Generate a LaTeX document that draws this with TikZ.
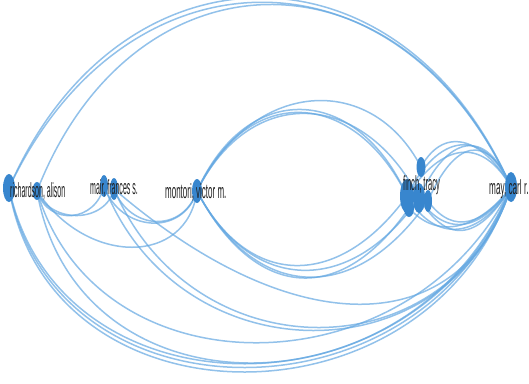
\documentclass[tikz,border=0pt]{standalone}
\usepackage{fontspec}
\setmainfont{Liberation Sans}
\usepackage{graphicx}
\usetikzlibrary{shapes.geometric}
\pgfdeclarelayer{paper}
\pgfdeclarelayer{links}
\pgfsetlayers{paper,links,main}
\definecolor{linkblue}{RGB}{100,168,226}
\definecolor{nodeblue}{RGB}{56,134,206}
\definecolor{labelgray}{RGB}{30,30,30}
\tikzset{
  author/.style={ellipse, fill=nodeblue, draw=none, inner sep=0pt},
  link/.style={draw=linkblue, line width=1.5pt, opacity=0.7},
  lbl/.style={text=labelgray, inner sep=0pt, anchor=base west,
              font=\fontsize{19}{21}\selectfont},
}
\newcommand{\narrow}[2]{\scalebox{#1}[1.08]{#2}}
\begin{document}
\begin{tikzpicture}[x=1pt, y=-1pt]
\useasboundingbox (0,0) rectangle (529,383);
\begin{pgfonlayer}{paper}
\fill[white] (0,0) rectangle (529,383);
\end{pgfonlayer}

% author nodes
\node[author, minimum width=12pt, minimum height=28pt] (ric)   at (9,188)   {};
\node[author, minimum width=9pt,  minimum height=18pt] (ali)   at (37,191)  {};
\node[author, minimum width=8pt,  minimum height=22pt] (mairA) at (104,186) {};
\node[author, minimum width=8pt,  minimum height=22pt] (mairB) at (114,189) {};
\node[author, minimum width=10pt, minimum height=24pt] (mon)   at (197,191) {};
\node[author, minimum width=14pt, minimum height=34pt] (finA)  at (407,196) {};
\node[author, minimum width=9pt,  minimum height=20pt] (finB)  at (421,167) {};
\node[author, minimum width=12pt, minimum height=30pt] (finC)  at (419,198) {};
\node[author, minimum width=10pt, minimum height=18pt] (finD)  at (409,208) {};
\node[author, minimum width=8pt,  minimum height=22pt] (finE)  at (428,201) {};
\node[author, minimum width=12pt, minimum height=30pt] (may)   at (511,187) {};

% labels
\node[lbl] (ricL)  at (10,197)  {\narrow{0.37}{richardson, alison}};
\node[lbl] (mairL) at (90,194)  {\narrow{0.37}{mair, frances s.}};
\node[lbl] (monL)  at (165,198) {\narrow{0.42}{montori, victor m.}};
\node[lbl] (finL)  at (403,190) {\narrow{0.40}{finch, tracy}};
\node[lbl] (mayL)  at (489,194) {\narrow{0.43}{may, carl r.}};

\begin{pgfonlayer}{links}
% long arcs over the top
\draw[link] (ric.center) .. controls +(110,-253) and +(-110,-253) .. (may.center);
\draw[link] (ric.center) .. controls +(116,-247) and +(-112,-247) .. (may.center);
\draw[link] (ali.center) .. controls +(96,-246) and +(-110,-246) .. (may.center);

% long arcs along the bottom
\draw[link] (ric.center) .. controls +(40,246) and +(-80,246) .. (may.center);
\draw[link] (ric.center) .. controls +(45,240) and +(-85,240) .. (may.center);
\draw[link] (ric.center) .. controls +(50,235) and +(-90,235) .. (may.center);
\draw[link] (ali.center) .. controls +(40,232) and +(-95,232) .. (may.center);
\draw[link] (ali.center) .. controls +(60,205) and +(-100,205) .. (may.center);

% frances s. mair to carl r. may
\draw[link] (mairA.center) .. controls +(75,192) and +(-60,192) .. (may.center);
\draw[link] (mairB.center) .. controls +(80,186) and +(-60,186) .. (may.center);
\draw[link] (mairB.center) .. controls +(180,155) and +(-50,155) .. (may.center);

% short links on the left
\draw[link] (ali.center) .. controls +(50,75) and +(-10,75) .. (mon.center);
\draw[link] (ali.center) .. controls +(12,36) and +(-8,36) .. (mairA.center);
\draw[link] (ali.center) .. controls +(14,34) and +(-8,34) .. (mairB.center);
\draw[link] (mairA.center) .. controls +(16,46) and +(-14,46) .. (mon.center);
\draw[link] (mairB.center) .. controls +(16,42) and +(-14,42) .. (mon.center);

% victor m. montori to the tracy finch group, upper arcs
\draw[link] (mon.center) .. controls +(50,-112) and +(-50,-112) .. (finA.center);
\draw[link] (mon.center) .. controls +(52,-110) and +(-52,-106) .. (finA.center);
\draw[link] (mon.center) .. controls +(55,-112) and +(-50,-96) .. (finB.center);
\draw[link] (mon.center) .. controls +(54,-108) and +(-55,-108) .. (finC.center);

% victor m. montori to the tracy finch group, lower arcs
\draw[link] (mon.center) .. controls +(50,96) and +(-70,96) .. (finA.center);
\draw[link] (mon.center) .. controls +(52,101) and +(-70,101) .. (finC.center);
\draw[link] (mon.center) .. controls +(54,104) and +(-72,104) .. (finD.center);
\draw[link] (mon.center) .. controls +(56,108) and +(-75,108) .. (finE.center);

% tracy finch group to carl r. may, upper arcs
\draw[link] (finB.center) .. controls +(25,-45) and +(-25,-45) .. (may.center);
\draw[link] (finA.center) .. controls +(30,-62) and +(-28,-62) .. (may.center);
\draw[link] (finC.center) .. controls +(28,-62) and +(-26,-62) .. (may.center);
\draw[link] (finE.center) .. controls +(26,-60) and +(-24,-56) .. (may.center);
\draw[link] (finA.center) .. controls +(34,-52) and +(-30,-52) .. (may.center);

% tracy finch group to carl r. may, lower arcs
\draw[link] (finA.center) .. controls +(30,50) and +(-30,50) .. (may.center);
\draw[link] (finC.center) .. controls +(28,42) and +(-28,42) .. (may.center);
\draw[link] (finD.center) .. controls +(30,34) and +(-30,40) .. (may.center);
\draw[link] (finE.center) .. controls +(26,36) and +(-26,36) .. (may.center);
\draw[link] (finC.center) .. controls +(30,50) and +(-30,50) .. (may.center);
\end{pgfonlayer}
\end{tikzpicture}
\end{document}
